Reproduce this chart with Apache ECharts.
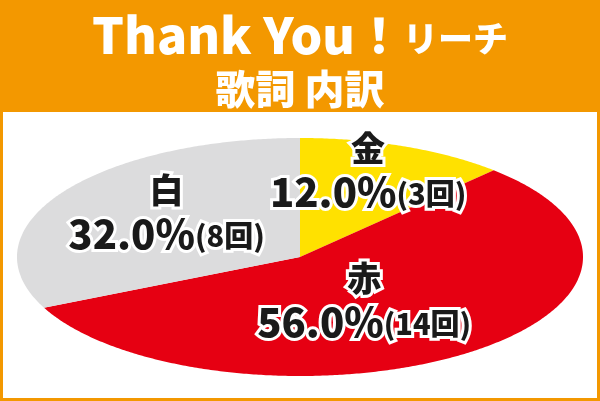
<!DOCTYPE html>
<html><head><meta charset="utf-8">
<script src="https://cdn.jsdelivr.net/npm/echarts@6/dist/echarts.min.js"></script>
<style>html,body{margin:0;padding:0;background:#F39800}#c{width:600px;height:401px}</style>
</head><body><div id="c"></div>
<script>
// ---- data ----
const categories = ['金', '赤', '白'];
const counts = [3, 14, 8];
const titleLine1 = ['Thank You', '！', 'リーチ'];
const titleLine2 = '歌詞 内訳';
// ---- style / layout ----
const sliceColors = ['#FFE100', '#E60012', '#DCDCDD'];
const labelNudge = [[16, -32], [-19, -5], [-14, -13]];
const FONT = '"Noto Sans CJK JP", "Noto Sans", sans-serif';
const CX = 300, CY = 257, RX = 283, RY = 119;

const total = counts.reduce((a, b) => a + b, 0);
function pt(frac, f) {
  const a = frac * 2 * Math.PI;
  return [CX + RX * f * Math.sin(a), CY - RY * f * Math.cos(a)];
}

const chart = echarts.init(document.getElementById('c'), null, {renderer: 'canvas'});
chart.setOption({
  backgroundColor: '#F39800',
  animation: false,
  title: [{
    text: '{a|' + titleLine1[0] + '}{b|' + titleLine1[1] + '}{c|' + titleLine1[2] + '}',
    left: 'center', top: 0,
    textStyle: {
      rich: {
        a: {fontSize: 50, fontWeight: 900, color: '#fff', fontFamily: FONT, lineHeight: 60},
        b: {fontSize: 48, fontWeight: 900, color: '#fff', fontFamily: FONT, lineHeight: 60},
        c: {fontSize: 35, fontWeight: 900, color: '#fff', fontFamily: FONT, lineHeight: 60, padding: [8, 0, 0, 0]}
      }
    }
  }, {
    text: titleLine2,
    left: 'center', top: 59,
    textStyle: {fontSize: 40, fontWeight: 900, color: '#fff', fontFamily: FONT, lineHeight: 50}
  }],
  graphic: [{
    type: 'rect', z: 0,
    shape: {x: 3, y: 112, width: 594, height: 286},
    style: {fill: '#fff'}
  }],
  series: [{
    type: 'custom',
    coordinateSystem: 'none',
    data: categories.map((n, i) => ({name: n, value: counts[i]})),
    renderItem: function (params, api) {
      const i = params.dataIndex;
      const v = api.value(0);
      const start = counts.slice(0, i).reduce((a, b) => a + b, 0) / total;
      const end = start + v / total;
      const pts = [[CX, CY]];
      const steps = Math.max(8, Math.ceil((end - start) * 720));
      for (let k = 0; k <= steps; k++) pts.push(pt(start + (end - start) * k / steps, 1));
      const mid = (start + end) / 2;
      const lp = pt(mid, 0.5);
      const pct = (v / total * 100).toFixed(1) + '%';
      const strokeStyle = {stroke: '#fff', lineWidth: 6, fill: '#1a1a1a', fontFamily: FONT, fontWeight: 900};
      return {
        type: 'group',
        children: [{
          type: 'polygon',
          shape: {points: pts},
          style: {fill: sliceColors[i], stroke: null}
        }, {
          type: 'text',
          z2: 100,
          x: lp[0] + labelNudge[i][0],
          y: lp[1] + labelNudge[i][1],
          style: {
            text: '{n|' + categories[i] + '}\n{p|' + pct + '}{c|(' + v + '回)}',
            align: 'center', verticalAlign: 'middle',
            stroke: '#fff', lineWidth: 6, fill: '#1a1a1a',
            rich: {
              n: Object.assign({fontSize: 34, lineHeight: 44}, strokeStyle),
              p: Object.assign({fontSize: 40, lineHeight: 44}, strokeStyle),
              c: Object.assign({fontSize: 29, lineHeight: 44, padding: [4, 0, 0, 0]}, strokeStyle)
            }
          }
        }]
      };
    }
  }]
});
</script></body></html>
